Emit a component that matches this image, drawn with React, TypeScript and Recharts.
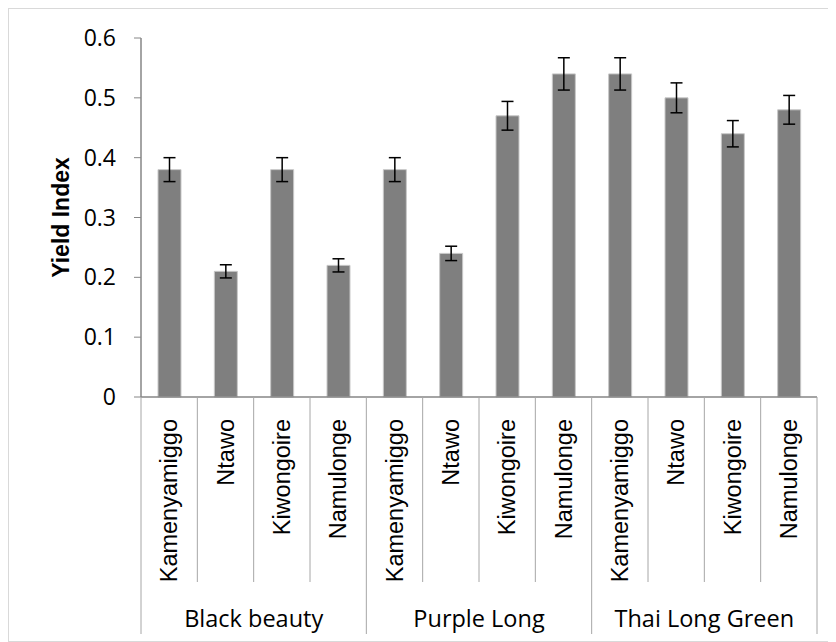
import React from 'react';
import { BarChart, Bar, XAxis, YAxis, ErrorBar } from 'recharts';

const categories = [
  'Kamenyamiggo', 'Ntawo', 'Kiwongoire', 'Namulonge',
  'Kamenyamiggo', 'Ntawo', 'Kiwongoire', 'Namulonge',
  'Kamenyamiggo', 'Ntawo', 'Kiwongoire', 'Namulonge',
];
const groups = ['Black beauty', 'Purple Long', 'Thai Long Green'];
const yieldIndex = [0.38, 0.21, 0.38, 0.22, 0.38, 0.24, 0.47, 0.54, 0.54, 0.5, 0.44, 0.48];
const yieldError = [0.02, 0.011, 0.02, 0.011, 0.02, 0.012, 0.024, 0.027, 0.027, 0.025, 0.022, 0.024];
const yTicks = [0, 0.1, 0.2, 0.3, 0.4, 0.5, 0.6];

const data = categories.map((name, i) => ({
  name,
  group: groups[Math.floor(i / 4)],
  value: yieldIndex[i],
  err: yieldError[i],
}));

const AXIS_COLOR = '#868686';
const DIVIDER_COLOR = '#a6a6a6';
const INNER_DROP = 185;
const OUTER_DROP = 237;

const CategoryTick = (props: any) => {
  const { x, y, payload, index } = props;
  const half = payload && typeof payload.offset === 'number' && payload.offset > 0 ? payload.offset : 28.2;
  const ty = y + 22;
  const isGroupStart = index % 4 === 0;
  const isLast = index === categories.length - 1;
  return (
    <g>
      <line x1={x - half} y1={y} x2={x - half} y2={y + (isGroupStart ? OUTER_DROP : INNER_DROP)} stroke={DIVIDER_COLOR} strokeWidth={1} />
      {isLast && (
        <line x1={x + half} y1={y} x2={x + half} y2={y + OUTER_DROP} stroke={DIVIDER_COLOR} strokeWidth={1} />
      )}
      <text
        x={x}
        y={ty}
        transform={`rotate(-90, ${x}, ${ty})`}
        textAnchor="end"
        dominantBaseline="central"
        fontFamily="'Liberation Sans', Arial, sans-serif"
        fontSize={23.5}
        fill="#000"
      >
        {payload.value}
      </text>
      {index % 4 === 1 && (
        <text
          x={x + half}
          y={y + 221}
          textAnchor="middle"
          dominantBaseline="central"
          fontFamily="'Open Sans', sans-serif"
          fontSize={23.5}
          fill="#000"
        >
          {groups[Math.floor(index / 4)]}
        </text>
      )}
    </g>
  );
};

const YTitle = (props: any) => {
  const vb = props.viewBox || { x: 0, y: 29, width: 132, height: 359 };
  const cx = vb.x + 52;
  const cy = vb.y + vb.height / 2;
  return (
    <text
      x={cx}
      y={cy}
      transform={`rotate(-90, ${cx}, ${cy})`}
      textAnchor="middle"
      dominantBaseline="central"
      fontFamily="'Liberation Sans', Arial, sans-serif"
      fontWeight="bold"
      fontSize={23}
      fill="#000"
    >
      Yield Index
    </text>
  );
};

export default function App() {
  return (
    <div
      style={{
        width: 828,
        height: 634,
        border: '1px solid #d9d9d9',
        boxSizing: 'border-box',
        background: '#fff',
      }}
    >
      <BarChart
        width={826}
        height={632}
        data={data}
        margin={{ top: 29, right: 18, bottom: 7, left: 0 }}
        barCategoryGap="0%"
      >
        <XAxis
          dataKey="name"
          interval={0}
          height={OUTER_DROP}
          tickLine={false}
          tickSize={0}
          tickMargin={0}
          axisLine={{ stroke: AXIS_COLOR, strokeWidth: 1.5 }}
          tick={<CategoryTick />}
        />
        <YAxis
          width={132}
          domain={[0, 0.6]}
          ticks={yTicks}
          interval={0}
          tickSize={7}
          tickMargin={18}
          tickLine={{ stroke: AXIS_COLOR }}
          axisLine={{ stroke: AXIS_COLOR, strokeWidth: 1.5 }}
          tickFormatter={(v: number) => (v === 0 ? '0' : v.toFixed(1))}
          tick={{ fontFamily: "'Open Sans', sans-serif", fontSize: 23, fill: '#000' }}
          label={{ content: <YTitle /> }}
        />
        <Bar dataKey="value" fill="#7f7f7f" stroke="#c8c8c8" strokeWidth={1} barSize={23} isAnimationActive={false}>
          <ErrorBar dataKey="err" width={6} stroke="#000" strokeWidth={1.5} isAnimationActive={false} />
        </Bar>
      </BarChart>
    </div>
  );
}
